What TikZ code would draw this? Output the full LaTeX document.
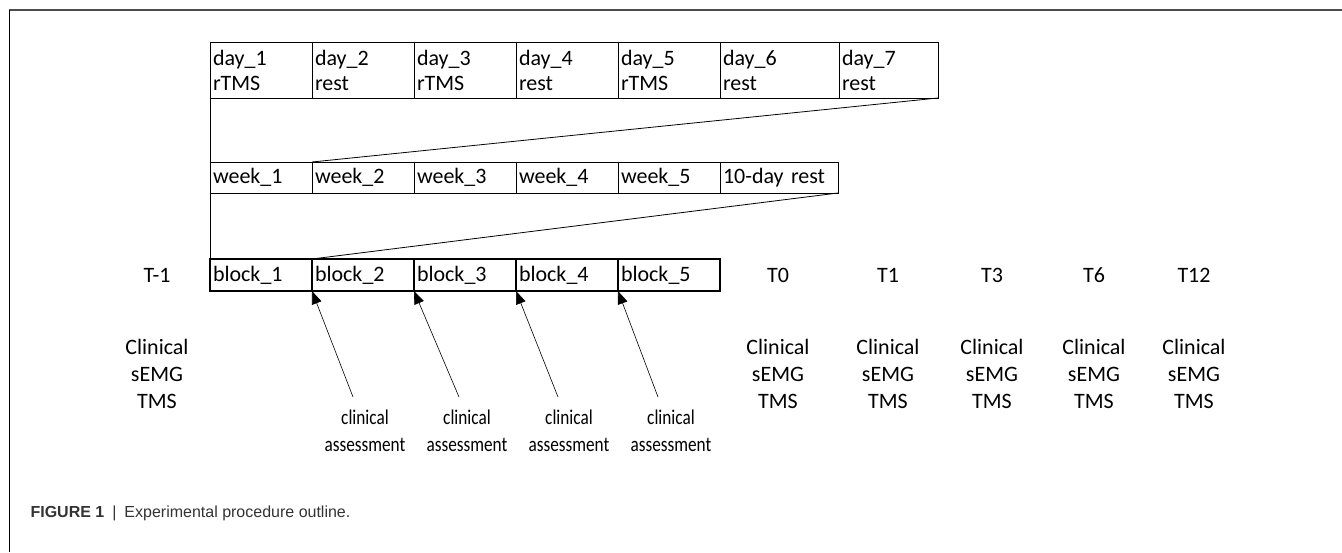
\documentclass[tikz,border=0pt]{standalone}
\usepackage{fontspec}
\setmainfont{Carlito}
\newfontfamily\capfont{Liberation Sans}
\newfontfamily\narrowfont[FakeStretch=0.82]{Carlito}
\usetikzlibrary{arrows.meta, positioning, calc}

\tikzset{
  cell/.style={draw, line width=0.9pt, inner xsep=3pt, inner ysep=0pt, outer sep=0pt,
    align=left, anchor=north west, font=\fontsize{22}{25}\selectfont},
  blockcell/.style={cell, line width=1.8pt},
  tlabel/.style={font=\fontsize{22}{27}\selectfont, align=center},
  assess/.style={font=\narrowfont\fontsize{21}{27}\selectfont, align=center},
}

\begin{document}
\begin{tikzpicture}[x=1pt,y=-1pt]
\useasboundingbox (0,0) rectangle (1342,552);
% Frame
\draw[gray!60!black, line width=1.6pt] (9,10) -- (1342,10);
\draw[line width=1pt] (9,10) -- (9,552);

% Days of one week
\foreach \i/\what/\x/\w in {1/rTMS/210/96, 2/rest/312/96, 3/rTMS/414/96, 4/rest/516/96,
    5/rTMS/618/96, 6/rest/720/113, 7/rest/839/93}
  \node[cell, text width=\w pt, minimum height=56pt] (d\i) at (\x,42) {day\_\i\\\what};

% Weeks of one block
\foreach \i/\x in {1/210, 2/312, 3/414, 4/516, 5/618}
  \node[cell, text width=96pt, minimum height=31pt] (w\i) at (\x,162) {week\_\i};
\node[cell, text width=112pt, minimum height=31pt] (w6) at (720,162) {10-day rest};

% Blocks
\foreach \i in {1,...,5}
  \node[blockcell, text width=96pt, minimum height=32pt] (b\i) at ({210+102*(\i-1)},259) {block\_\i};

% Zoom lines
\draw[line width=0.8pt] (d1.south west) -- (w1.north west);
\draw[line width=0.8pt] (d7.south east) -- (w2.north west);
\draw[line width=0.8pt] (w1.south west) -- (b1.north west);
\draw[line width=0.8pt] (w6.south east) -- (b2.north west);

% Time points and measures
\node[tlabel] (tm1) at (157,275) {T-1};
\node[tlabel] (mm1) at (157,374) {Clinical\\sEMG\\TMS};
\foreach \t/\x in {0/778, 1/888, 3/992, 6/1094, 12/1194} {
  \node[tlabel] (t\t) at (\x,275) {T\t};
  \node[tlabel] (m\t) at (\x,374) {Clinical\\sEMG\\TMS};
}

% Assessments after each block
\foreach \i/\dx in {2/41, 3/45, 4/42, 5/40} {
  \coordinate (s\i) at ($(b\i.south west)+(\dx,106)$);
  \node[assess] (a\i) at ($(b\i.south west)+(53,140)$) {clinical\\assessment};
  \draw[line width=0.6pt, -{Triangle[length=13pt,width=10pt]}] (s\i) -- (b\i.south west);
}

\node[anchor=base west, font=\capfont\fontsize{16}{19}\selectfont, text=black!80] (cap) at (27,517)
  {\textbf{FIGURE 1}\enspace|\enspace Experimental procedure outline.};
\end{tikzpicture}
\end{document}
